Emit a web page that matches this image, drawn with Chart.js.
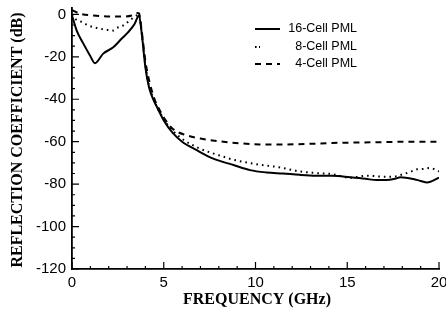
<!DOCTYPE html>
<html>
<head>
<meta charset="utf-8">
<script src="https://cdn.jsdelivr.net/npm/chart.js@4.4.1/dist/chart.umd.min.js"></script>
<style>
  body { margin: 0; background: #fff; }
  #wrap { width: 446px; height: 320px; position: relative; }
</style>
</head>
<body>
<div id="wrap"><canvas id="chart"></canvas></div>
<script>
// frequencies (GHz) and reflection (dB)
const freq16 = [0, 0.25, 0.62, 0.98, 1.25, 1.7, 2.25, 2.7, 3.05, 3.4, 3.65, 3.8, 4.0, 4.2, 4.45, 4.65, 5.0, 5.5, 6.0, 6.8, 7.7, 8.8, 9.7, 10.6, 11.5, 12.4, 13.3, 14.2, 15.15, 16.0, 16.6, 17.15, 17.6, 17.9, 18.6, 19.0, 19.35, 20]
const refl16 = [-0.5, -7.5, -13.8, -19.4, -23, -18.5, -15.5, -11.5, -8.5, -4.7, -0.5, -9, -25, -34.5, -40.5, -44, -50, -56, -60, -64, -68, -71, -73.4, -74.5, -75, -75.6, -76, -76.1, -76.8, -77.5, -78.1, -78.1, -77.5, -76.8, -77.6, -78.5, -79.2, -77]

const freq8 = [0, 0.16, 0.53, 0.89, 1.16, 1.7, 2.25, 2.43, 2.8, 3.16, 3.52, 3.65, 3.8, 4.0, 4.2, 4.45, 4.8, 5.3, 5.9, 6.9, 7.5, 8.07, 8.8, 9.9, 11.3, 12.4, 13.3, 14.2, 15.15, 16.06, 16.95, 17.5, 18.05, 18.5, 18.8, 19.2, 19.5, 20]
const refl8 = [0, -2, -3.6, -5.2, -6, -7, -7.6, -6.5, -5.2, -2.8, -0.5, 0, -9, -24, -33.5, -40, -46.5, -53, -58, -63, -65, -66.6, -68.5, -70.4, -72.1, -74, -74.8, -75.3, -77, -76, -76.5, -76.5, -75.3, -74, -73, -72.8, -72.4, -74]

const freq4 = [0, 0.44, 1.16, 2.07, 2.8, 3.25, 3.52, 3.65, 3.8, 4.0, 4.2, 4.5, 4.8, 5.0, 5.5, 6.25, 7.0, 8.0, 9.2, 10.25, 11.5, 13, 14.2, 15.5, 17, 18.5, 20]
const refl4 = [2, 0.3, -0.5, -1, -1, -0.5, 0.6, 0.5, -8, -22, -31, -40, -45.5, -48.6, -54, -57, -58.5, -59.8, -60.8, -61.3, -61.3, -61, -60.6, -60.4, -60.2, -60, -60]

const seriesNames = ["16-Cell PML", "8-Cell PML", "4-Cell PML"]
const xTitle = "FREQUENCY (GHz)"
const yTitle = "REFLECTION COEFFICIENT (dB)"

const toPoints = (xs, ys) => xs.map((x, i) => ({ x: x, y: ys[i] }))

const styles = [
    { borderWidth: 2, borderDash: [] },
    { borderWidth: 2, borderDash: [1.6, 4] },
    { borderWidth: 2, borderDash: [6, 5] }
]

// inward ticks, legend and axis titles
const decor = {
    id: "decor",
    afterDraw(chart) {
        const ctx = chart.ctx
        const xs = chart.scales.x
        const ys = chart.scales.y
        ctx.save()
        ctx.strokeStyle = "#000"
        ctx.lineWidth = 1.2
        ctx.beginPath()
        xs.ticks.forEach((t) => {
            const px = xs.getPixelForValue(t.value)
            const len = t.value % 5 === 0 ? 7 : 3
            ctx.moveTo(px, ys.bottom)
            ctx.lineTo(px, ys.bottom - len)
        })
        ys.ticks.forEach((t) => {
            const py = ys.getPixelForValue(t.value)
            const len = t.value % 20 === 0 ? 7 : 3
            ctx.moveTo(xs.left, py)
            ctx.lineTo(xs.left + len, py)
        })
        ctx.stroke()

        // legend
        ctx.font = '12.5px "Liberation Sans", Arial, sans-serif'
        ctx.fillStyle = "#000"
        ctx.textAlign = "right"
        ctx.textBaseline = "middle"
        const rows = [29, 47, 64]
        seriesNames.forEach((name, i) => {
            ctx.beginPath()
            ctx.lineWidth = styles[i].borderWidth
            ctx.setLineDash(i === 1 ? [1.6, 2.4] : styles[i].borderDash)
            ctx.moveTo(255, rows[i])
            ctx.lineTo(i === 1 ? 260 : 280, rows[i])
            ctx.stroke()
            ctx.setLineDash([])
            ctx.fillText(name, 357, rows[i])
        })

        // titles
        ctx.font = 'bold 16px "Liberation Serif", "Times New Roman", serif'
        ctx.textAlign = "center"
        ctx.fillText(xTitle, 257, 300)
        ctx.translate(18, 140)
        ctx.rotate(-Math.PI / 2)
        ctx.fillText(yTitle, 0, 0)
        ctx.restore()
    }
}

const datasets = seriesNames.map((name, i) => ({
    label: name,
    data: toPoints([freq16, freq8, freq4][i], [refl16, refl8, refl4][i]),
    borderColor: "#000",
    borderWidth: styles[i].borderWidth,
    borderDash: styles[i].borderDash,
    pointRadius: 0,
    fill: false,
    cubicInterpolationMode: "monotone"
}))

const tickFont = { family: '"Liberation Sans", Arial, sans-serif', size: 15 }

new Chart(document.querySelector("#chart"), {
    type: "line",
    data: { datasets: datasets },
    options: {
        responsive: true,
        maintainAspectRatio: false,
        animation: false,
        layout: { padding: { top: 8, right: 7, left: 0, bottom: 0 } },
        plugins: { legend: { display: false }, tooltip: { enabled: false } },
        scales: {
            x: {
                type: "linear",
                min: 0,
                max: 20,
                grid: { display: false, drawTicks: false },
                border: { display: true, color: "#000", width: 1.8 },
                ticks: {
                    stepSize: 1,
                    autoSkip: false,
                    maxRotation: 0,
                    padding: 5,
                    color: "#000",
                    font: tickFont,
                    callback: (v) => (v % 5 === 0 ? v : "")
                },
                afterFit: (s) => { s.height = 51; s.paddingLeft = 0; s.paddingRight = 0 }
            },
            y: {
                type: "linear",
                min: -120,
                max: 3,
                grid: { display: false, drawTicks: false },
                border: { display: true, color: "#000", width: 1.8 },
                ticks: {
                    stepSize: 5,
                    autoSkip: false,
                    includeBounds: false,
                    padding: 6,
                    color: "#000",
                    font: tickFont,
                    callback: (v) => (v % 20 === 0 ? v : "")
                },
                afterFit: (s) => { s.width = 72; s.paddingTop = 0; s.paddingBottom = 0 }
            }
        }
    },
    plugins: [decor]
})
</script>
</body>
</html>
